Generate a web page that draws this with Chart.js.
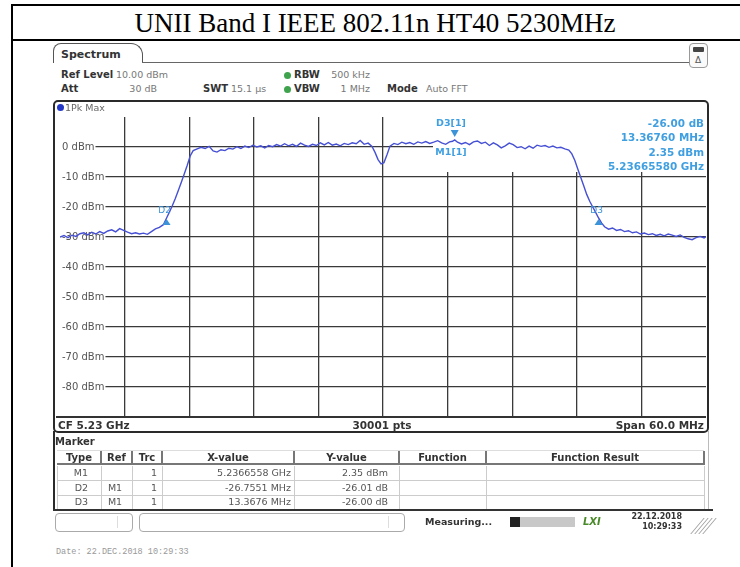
<!DOCTYPE html>
<html>
<head>
<meta charset="utf-8">
<script src="https://cdn.jsdelivr.net/npm/chart.js@4.4.0/dist/chart.umd.min.js"></script>
<style>
body { margin: 0; background: #fff; }
#page { position: relative; width: 740px; height: 567px; overflow: hidden; font-family: "DejaVu Sans", sans-serif; color: #222; }
.abs { position: absolute; white-space: nowrap; line-height: 1; }
.box { position: absolute; box-sizing: border-box; }
</style>
</head>
<body>
<div id="page">
  <canvas id="spec" width="656" height="333" style="position:absolute;left:53px;top:100px"></canvas>
</div>
<script>
/* trace: offset from CF 5.23 GHz in MHz, level in dBm */
const freqMHz = [-30.00,-29.63,-29.26,-28.89,-28.52,-28.15,-27.78,-27.42,-27.05,-26.68,
  -26.31,-25.94,-25.57,-25.20,-24.83,-24.46,-24.09,-23.72,-23.35,-22.98,
  -22.62,-22.25,-21.88,-21.51,-21.14,-20.77,-20.40,-20.10,-19.85,-19.57,
  -19.29,-19.02,-18.74,-18.46,-18.18,-17.91,-17.63,-17.26,-16.89,-16.52,
  -16.15,-15.78,-15.42,-15.05,-14.68,-14.31,-13.94,-13.57,-13.20,-12.83,
  -12.46,-12.09,-11.72,-11.35,-10.98,-10.62,-10.25,-9.88,-9.51,-9.14,
  -8.77,-8.40,-8.03,-7.66,-7.29,-6.92,-6.55,-6.18,-5.82,-5.45,
  -5.08,-4.71,-4.34,-3.97,-3.60,-3.23,-2.86,-2.49,-2.12,-1.75,
  -1.38,-1.02,-0.74,-0.46,-0.18,0.09,0.37,0.65,1.02,1.38,
  1.75,2.12,2.49,2.86,3.23,3.60,3.97,4.34,4.71,5.08,
  5.45,5.82,6.18,6.46,6.66,6.92,7.29,7.66,8.03,8.40,
  8.77,9.14,9.51,9.88,10.25,10.62,10.98,11.35,11.72,12.09,
  12.46,12.83,13.20,13.57,13.94,14.31,14.68,15.05,15.42,15.78,
  16.15,16.52,16.89,17.26,17.54,17.82,18.09,18.37,18.65,18.92,
  19.20,19.48,19.75,20.02,20.31,20.58,20.95,21.32,21.69,22.06,
  22.43,22.80,23.17,23.54,23.91,24.28,24.65,25.02,25.38,25.75,
  26.12,26.49,26.86,27.23,27.60,27.97,28.34,28.71,29.08,29.45,
  29.82,30.00];
const levelDbm = [-30.0,-29.5,-30.2,-29.4,-29.8,-28.9,-28.6,-29.3,-28.4,-29.0,
  -28.2,-28.8,-28.0,-27.6,-28.3,-27.2,-27.8,-28.4,-28.9,-28.6,
  -29.0,-28.7,-29.1,-28.2,-27.3,-26.8,-25.9,-23.66,-21.8,-19.6,
  -17.2,-14.6,-11.8,-9.0,-6.1,-3.0,-1.2,-0.6,-0.1,-0.5,
  0.2,-1.3,-1.7,-0.9,-1.2,-0.4,-0.7,0.1,-0.5,0.3,
  -0.2,0.6,0.0,0.4,-0.3,0.5,0.1,0.8,0.3,1.1,
  0.4,0.9,0.2,1.3,0.6,0.2,0.9,0.5,1.4,0.7,
  1.5,0.6,1.0,0.4,1.2,0.8,1.4,1.1,2.2,0.9,
  1.3,0.2,-1.8,-4.2,-5.6,-5.2,-2.6,0.3,1.2,0.8,
  1.6,1.1,1.5,0.9,1.7,1.3,1.8,1.2,1.6,2.1,
  1.4,0.9,1.7,1.9,2.35,1.6,1.0,1.5,0.8,1.7,
  2.0,1.2,1.6,0.5,1.4,0.7,-0.3,0.4,1.3,0.8,
  -0.2,0.1,-0.6,0.3,-0.4,0.6,0.2,0.5,-0.1,0.3,
  -0.3,-0.1,-0.6,-1.0,-2.3,-4.5,-7.3,-10.2,-13.0,-15.8,
  -18.1,-20.0,-21.8,-23.65,-25.4,-26.6,-27.4,-27.0,-27.8,-27.5,
  -28.2,-27.9,-28.6,-28.3,-29.0,-28.7,-29.2,-28.9,-29.5,-29.1,
  -29.6,-29.0,-29.4,-29.8,-29.3,-30.1,-30.6,-30.9,-30.2,-29.8,
  -30.3,-29.9];

/* markers */
const markerNames = ["M1", "D2", "D3"];
const markerFreq = [6.66, -20.10, 20.02];
const markerLevel = [2.35, -23.66, -23.65];
const markerRef = ["", "M1", "M1"];
const markerTrc = ["1", "1", "1"];
const markerX = ["5.2366558 GHz", "-26.7551 MHz", "13.3676 MHz"];
const markerY = ["2.35 dBm", "-26.01 dB", "-26.00 dB"];
const readout = ["-26.00 dB", "13.36760 MHz", "2.35 dBm", "5.23665580 GHz"];

/* axes */
const yMin = -90, yMax = 10, yStep = 10;
const xMin = -30, xMax = 30, xStep = 6;

const page = document.getElementById('page');

const put = (x, y, text, css, align) => {
    let el = document.createElement('div');
    el.className = 'abs';
    el.textContent = text;
    el.style.left = x + 'px';
    el.style.top = y + 'px';
    let tx = align === 'right' ? '-100%' : align === 'center' ? '-50%' : '0';
    el.style.transform = 'translate(' + tx + ', -50%)';
    if (css) el.style.cssText += css;
    page.appendChild(el);
    return el;
}

const box = (x, y, w, h, css) => {
    let el = document.createElement('div');
    el.className = 'box';
    el.style.cssText += 'left:' + x + 'px;top:' + y + 'px;width:' + w + 'px;height:' + h + 'px;' + (css || '');
    page.appendChild(el);
    return el;
}

/* document frame + title */
box(11, 4, 729, 2, 'background:#000');
box(11, 39, 729, 2, 'background:#000');
box(11, 4, 2, 563, 'background:#000');
put(375, 23, "UNII Band I IEEE 802.11n HT40 5230MHz", 'font-family:"Liberation Serif",serif;font-size:27px;color:#000', 'center');

/* instrument header */
box(53, 43, 90, 20, 'border:1.5px solid #555;border-bottom:none;border-radius:8px 12px 0 0');
box(142, 62, 547, 1, 'background:#666');
put(61, 54, "Spectrum", 'font-size:11px;font-weight:bold;color:#333');
box(689, 43, 19, 25, 'border:1.5px solid #999;border-radius:4px;background:#fafafa');
box(693, 47, 11, 5, 'background:#444;border-radius:1px');
put(698, 60, "\u0394", 'font-size:9px;color:#555', 'center');

const small = 'font-size:9.5px;color:#777';
const bold = 'font-size:10px;font-weight:bold;color:#333';
const dot = 'width:7px;height:7px;border-radius:50%;background:#3fa34d';
put(61, 75, "Ref Level", bold);
put(116, 75, "10.00 dBm", small);
box(284, 72, 7, 7, dot);
put(294, 75, "RBW", bold);
put(370, 75, "500 kHz", small, 'right');
put(61, 89, "Att", bold);
put(157, 89, "30 dB", small, 'right');
put(203, 89, "SWT", bold);
put(231, 89, "15.1 \u00b5s", small);
box(284, 86, 7, 7, dot);
put(294, 89, "VBW", bold);
put(370, 89, "1 MHz", small, 'right');
put(387, 89, "Mode", bold);
put(426, 89, "Auto FFT", small);

/* plot frame */
box(53, 100, 656, 333, 'border:2px solid #2a2a2a;border-radius:5px');
box(56, 416, 650, 2, 'background:#333');
box(57, 104, 7, 7, 'border-radius:50%;background:#2438c8');
put(65, 108, "1Pk Max", 'font-size:9.5px;color:#666');
put(58, 425, "CF 5.23 GHz", bold + ';font-size:10.5px');
put(382, 425, "30001 pts", bold + ';font-size:10.5px', 'center');
put(704, 425, "Span 60.0 MHz", bold + ';font-size:10.5px', 'right');

/* marker readout */
const blue = 'font-size:10.4px;font-weight:bold;color:#3f9fe0';
const readY = [123, 137, 152, 166];
readout.forEach((t, i) => put(704, readY[i], t, blue, 'right'));
put(451, 123, "D3[1]", blue + ';font-size:9.5px', 'center');
put(451, 152, "M1[1]", blue + ';font-size:9.5px', 'center');

/* marker table */
box(53, 431, 656, 80, 'border-left:2px solid #2a2a2a;border-right:1px solid #bbb');
put(55, 442, "Marker", bold);
const cols = [57, 101, 132, 162, 294, 399, 486, 704];
const heads = ["Type", "Ref", "Trc", "X-value", "Y-value", "Function", "Function Result"];
box(57, 450, 647, 15, 'border-top:1px solid #ddd;border-bottom:2px solid #777;background:#fff');
heads.forEach((h, i) => {
    put((cols[i] + cols[i + 1]) / 2, 458, h, bold, 'center');
    box(cols[i + 1] - 1, 451, 2, 14, 'background:#777');
});
const rowY = [473, 488, 502];
rowY.forEach((y, r) => {
    box(57, y + 7, 647, 1, 'background:#ccc');
    cols.forEach((c, i) => box(c, y - 7, 1, 15, 'background:#ccc'));
    put(88, y, markerNames[r], small + ';color:#555', 'right');
    put(115, y, markerRef[r], small + ';color:#555', 'center');
    put(157, y, markerTrc[r], small + ';color:#555', 'right');
    put(291, y, markerX[r], small + ';color:#555', 'right');
    put(365, y, markerY[r], small + ';color:#555', 'center');
});

/* status bar */
box(53, 509, 660, 2, 'background:#333');
box(55, 513, 78, 19, 'border:1px solid #aaa;border-radius:4px');
box(117, 516, 1, 12, 'background:#ddd');
box(139, 513, 266, 19, 'border:1px solid #aaa;border-radius:4px');
box(388, 516, 1, 12, 'background:#ddd');
put(425, 522, "Measuring...", 'font-size:9.5px;font-weight:bold;color:#333');
box(510, 517, 65, 10, 'background:#c8c8c8');
box(510, 517, 10, 10, 'background:#222');
put(583, 522, "LXI", 'font-size:10px;font-weight:bold;font-style:italic;color:#4a8a2a');
put(682, 517, "22.12.2018", 'font-size:8px;font-weight:bold;color:#333', 'right');
put(682, 527, "10:29:33", 'font-size:8px;font-weight:bold;color:#333', 'right');
for (let k = 0; k < 4; k++) box(697 + k * 4, 518, 1, 16, 'background:#999;transform:skewX(-40deg)');

put(56, 552, "Date: 22.DEC.2018  10:29:33", 'font-family:"Liberation Mono",monospace;font-size:8.5px;color:#999');

/* marker symbols on the trace */
const markerPlugin = {
    id: 'markers',
    beforeDatasetsDraw(chart) {
        let { ctx, chartArea } = chart;
        ctx.save();
        ctx.fillStyle = '#fff';
        ctx.fillRect(380, chartArea.top, chartArea.right - 380, 72 - chartArea.top);
        ctx.restore();
    },
    afterDatasetsDraw(chart) {
        let { ctx, scales } = chart;
        ctx.save();
        ctx.fillStyle = '#3d93d8';
        ctx.font = '9px "DejaVu Sans"';
        ctx.textAlign = 'center';
        ctx.textBaseline = 'middle';
        markerNames.forEach((name, i) => {
            let px = scales.x.getPixelForValue(markerFreq[i]);
            let py = scales.y.getPixelForValue(markerLevel[i]);
            ctx.beginPath();
            if (name === 'M1') {
                ctx.moveTo(px - 4, py - 10);
                ctx.lineTo(px + 4, py - 10);
                ctx.lineTo(px, py - 3);
            } else {
                ctx.moveTo(px, py + 1);
                ctx.lineTo(px + 4, py + 7);
                ctx.lineTo(px - 4, py + 7);
                ctx.fillText(name, px - 2, py - 7);
            }
            ctx.closePath();
            ctx.fill();
        });
        ctx.restore();
    }
}

const ctx = document.getElementById('spec').getContext('2d');

new Chart(ctx, {
    type: 'line',
    data: {
        datasets: [{
            label: "1Pk Max",
            data: freqMHz.map((f, i) => ({ x: f, y: levelDbm[i] })),
            borderColor: '#4650d4',
            borderWidth: 1.4,
            pointRadius: 0,
            tension: 0
        }]
    },
    options: {
        responsive: false,
        animation: false,
        layout: { padding: { left: 3, right: 3, top: 17, bottom: 16 } },
        plugins: { legend: { display: false }, tooltip: { enabled: false } },
        scales: {
            x: {
                type: 'linear', min: xMin, max: xMax,
                ticks: { display: false, stepSize: xStep },
                grid: {
                    drawTicks: false, lineWidth: 1.3,
                    color: c => (c.tick && (c.tick.value === xMin || c.tick.value === xMax)) ? 'rgba(0,0,0,0)' : '#3a3a3a'
                },
                border: { display: false }
            },
            y: {
                min: yMin, max: yMax,
                ticks: {
                    stepSize: yStep, mirror: true, padding: 2, color: '#555',
                    font: { family: 'DejaVu Sans', size: 10 },
                    showLabelBackdrop: true, backdropColor: '#fff',
                    backdropPadding: { left: 3, right: 1, top: 0, bottom: 0 },
                    callback: v => (v <= 0 && v >= -80) ? v + ' dBm' : ''
                },
                grid: {
                    drawTicks: false, lineWidth: 1.3,
                    color: c => (c.tick && (c.tick.value === yMax || c.tick.value === yMin)) ? 'rgba(0,0,0,0)' : '#3a3a3a'
                },
                border: { display: false }
            }
        }
    },
    plugins: [markerPlugin]
});
</script>
</body>
</html>
